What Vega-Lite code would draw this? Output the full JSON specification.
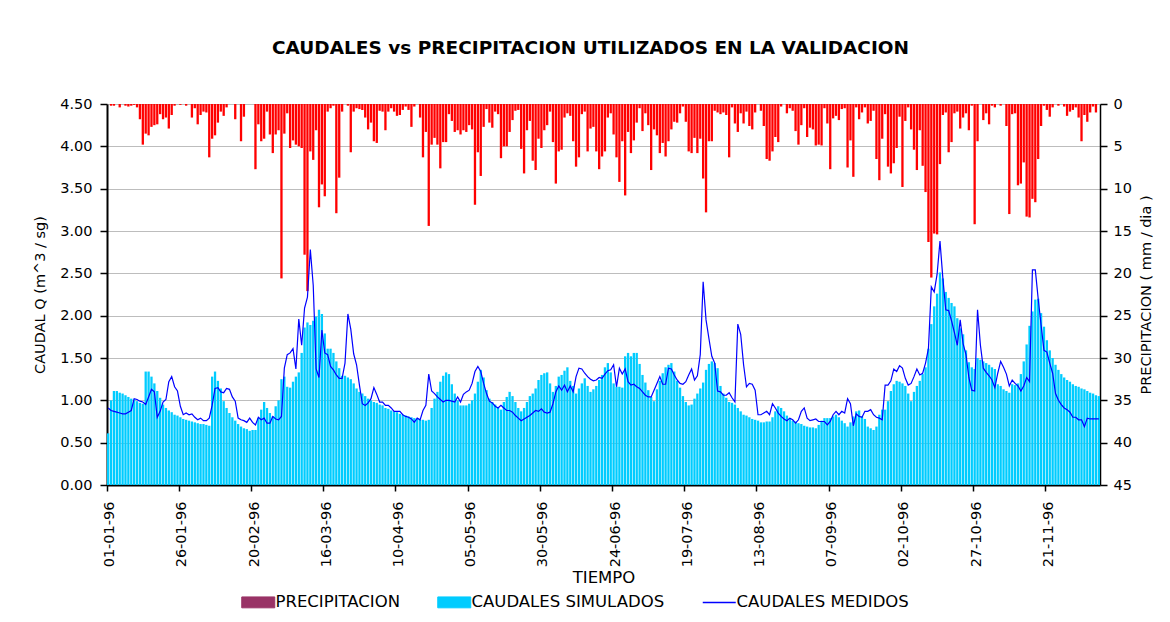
{
"$schema": "https://vega.github.io/schema/vega-lite/v6.json",
"width": 993, "height": 381,
"autosize": {"type": "none"},
"padding": {"left": 107, "top": 104, "right": 70, "bottom": 137},
"background": "white",
"config": {
 "view": {"stroke": null},
 "font": "DejaVu Sans",
 "axis": {"labelFont": "DejaVu Sans", "titleFont": "DejaVu Sans", "labelColor": "black", "titleColor": "black", "titleFontWeight": "normal", "tickColor": "black", "domainColor": "black"}
},
"title": {"text": "CAUDALES vs PRECIPITACION UTILIZADOS EN LA VALIDACION", "font": "DejaVu Sans", "fontSize": 18.5, "fontWeight": "bold", "color": "black", "offset": 39, "dx": -13, "anchor": "middle"},
"data": {"values": [
{"fecha":"01-01-96","sim":0.61,"med":0.91,"pre":0},
{"fecha":"02-01-96","sim":1.00,"med":0.88,"pre":0.2},
{"fecha":"03-01-96","sim":1.11,"med":0.87,"pre":0.2},
{"fecha":"04-01-96","sim":1.11,"med":0.86,"pre":0},
{"fecha":"05-01-96","sim":1.09,"med":0.85,"pre":0.4},
{"fecha":"06-01-96","sim":1.08,"med":0.84,"pre":0},
{"fecha":"07-01-96","sim":1.06,"med":0.84,"pre":0.2},
{"fecha":"08-01-96","sim":1.04,"med":0.86,"pre":0.3},
{"fecha":"09-01-96","sim":1.02,"med":0.88,"pre":0.2},
{"fecha":"10-01-96","sim":1.01,"med":1.02,"pre":0.1},
{"fecha":"11-01-96","sim":0.99,"med":1.01,"pre":0.4},
{"fecha":"12-01-96","sim":0.97,"med":0.99,"pre":1.8},
{"fecha":"13-01-96","sim":0.96,"med":0.98,"pre":4.8},
{"fecha":"14-01-96","sim":1.34,"med":0.95,"pre":3.5},
{"fecha":"15-01-96","sim":1.34,"med":1.04,"pre":3.7},
{"fecha":"16-01-96","sim":1.28,"med":1.13,"pre":2.7},
{"fecha":"17-01-96","sim":1.20,"med":1.10,"pre":2.5},
{"fecha":"18-01-96","sim":1.11,"med":0.80,"pre":2.4},
{"fecha":"19-01-96","sim":1.03,"med":0.87,"pre":1.2},
{"fecha":"20-01-96","sim":0.95,"med":0.98,"pre":1.8},
{"fecha":"21-01-96","sim":0.91,"med":1.01,"pre":1.6},
{"fecha":"22-01-96","sim":0.88,"med":1.22,"pre":2.9},
{"fecha":"23-01-96","sim":0.86,"med":1.28,"pre":1.3},
{"fecha":"24-01-96","sim":0.83,"med":1.16,"pre":0.2},
{"fecha":"25-01-96","sim":0.82,"med":1.11,"pre":0},
{"fecha":"26-01-96","sim":0.80,"med":0.93,"pre":0.1},
{"fecha":"27-01-96","sim":0.78,"med":0.83,"pre":0},
{"fecha":"28-01-96","sim":0.77,"med":0.85,"pre":0.2},
{"fecha":"29-01-96","sim":0.76,"med":0.83,"pre":0},
{"fecha":"30-01-96","sim":0.75,"med":0.84,"pre":1.6},
{"fecha":"31-01-96","sim":0.74,"med":0.80,"pre":0.5},
{"fecha":"01-02-96","sim":0.73,"med":0.77,"pre":2.4},
{"fecha":"02-02-96","sim":0.72,"med":0.79,"pre":1.3},
{"fecha":"03-02-96","sim":0.72,"med":0.76,"pre":0.9},
{"fecha":"04-02-96","sim":0.71,"med":0.76,"pre":1.0},
{"fecha":"05-02-96","sim":0.70,"med":0.79,"pre":6.3},
{"fecha":"06-02-96","sim":1.28,"med":0.94,"pre":4.1},
{"fecha":"07-02-96","sim":1.34,"med":1.14,"pre":3.7},
{"fecha":"08-02-96","sim":1.23,"med":1.15,"pre":2.2},
{"fecha":"09-02-96","sim":1.14,"med":1.10,"pre":0.9},
{"fecha":"10-02-96","sim":0.99,"med":1.09,"pre":1.4},
{"fecha":"11-02-96","sim":0.91,"med":1.14,"pre":0.4},
{"fecha":"12-02-96","sim":0.85,"med":1.13,"pre":0},
{"fecha":"13-02-96","sim":0.80,"med":1.04,"pre":0},
{"fecha":"14-02-96","sim":0.76,"med":0.99,"pre":1.8},
{"fecha":"15-02-96","sim":0.72,"med":0.79,"pre":0},
{"fecha":"16-02-96","sim":0.69,"med":0.77,"pre":4.4},
{"fecha":"17-02-96","sim":0.67,"med":0.76,"pre":1.5},
{"fecha":"18-02-96","sim":0.66,"med":0.74,"pre":0},
{"fecha":"19-02-96","sim":0.64,"med":0.79,"pre":0},
{"fecha":"20-02-96","sim":0.65,"med":0.74,"pre":0},
{"fecha":"21-02-96","sim":0.65,"med":0.71,"pre":7.7},
{"fecha":"22-02-96","sim":0.79,"med":0.80,"pre":2.4},
{"fecha":"23-02-96","sim":0.89,"med":0.77,"pre":4.4},
{"fecha":"24-02-96","sim":0.98,"med":0.79,"pre":4.1},
{"fecha":"25-02-96","sim":0.91,"med":0.73,"pre":0.9},
{"fecha":"26-02-96","sim":0.85,"med":0.73,"pre":3.6},
{"fecha":"27-02-96","sim":0.81,"med":0.81,"pre":5.8},
{"fecha":"28-02-96","sim":0.93,"med":0.78,"pre":3.6},
{"fecha":"29-02-96","sim":1.00,"med":0.77,"pre":3.1},
{"fecha":"01-03-96","sim":1.25,"med":0.81,"pre":20.6},
{"fecha":"02-03-96","sim":1.28,"med":1.38,"pre":3.5},
{"fecha":"03-03-96","sim":1.16,"med":1.54,"pre":1.1},
{"fecha":"04-03-96","sim":1.15,"med":1.56,"pre":5.2},
{"fecha":"05-03-96","sim":1.22,"med":1.61,"pre":4.3},
{"fecha":"06-03-96","sim":1.28,"med":1.37,"pre":4.8},
{"fecha":"07-03-96","sim":1.33,"med":1.96,"pre":5.0},
{"fecha":"08-03-96","sim":1.56,"med":1.65,"pre":5.2},
{"fecha":"09-03-96","sim":1.86,"med":2.09,"pre":17.8},
{"fecha":"10-03-96","sim":1.92,"med":2.22,"pre":22.1},
{"fecha":"11-03-96","sim":1.89,"med":2.78,"pre":5.6},
{"fecha":"12-03-96","sim":1.94,"med":2.36,"pre":6.6},
{"fecha":"13-03-96","sim":1.99,"med":1.37,"pre":3.1},
{"fecha":"14-03-96","sim":2.07,"med":1.27,"pre":12.2},
{"fecha":"15-03-96","sim":2.02,"med":1.83,"pre":9.5},
{"fecha":"16-03-96","sim":1.79,"med":1.56,"pre":10.9},
{"fecha":"17-03-96","sim":1.61,"med":1.54,"pre":0.9},
{"fecha":"18-03-96","sim":1.61,"med":1.40,"pre":0.5},
{"fecha":"19-03-96","sim":1.56,"med":1.36,"pre":0.2},
{"fecha":"20-03-96","sim":1.46,"med":1.30,"pre":12.9},
{"fecha":"21-03-96","sim":1.38,"med":1.26,"pre":8.7},
{"fecha":"22-03-96","sim":1.29,"med":1.26,"pre":0.9},
{"fecha":"23-03-96","sim":1.29,"med":1.44,"pre":0},
{"fecha":"24-03-96","sim":1.27,"med":2.02,"pre":0.2},
{"fecha":"25-03-96","sim":1.25,"med":1.84,"pre":5.7},
{"fecha":"26-03-96","sim":1.20,"med":1.55,"pre":0.9},
{"fecha":"27-03-96","sim":1.14,"med":1.42,"pre":0.5},
{"fecha":"28-03-96","sim":1.10,"med":1.18,"pre":0.6},
{"fecha":"29-03-96","sim":1.08,"med":0.96,"pre":0.7},
{"fecha":"30-03-96","sim":1.05,"med":0.94,"pre":1.6},
{"fecha":"31-03-96","sim":1.02,"med":0.97,"pre":3.0},
{"fecha":"01-04-96","sim":1.00,"med":1.02,"pre":2.2},
{"fecha":"02-04-96","sim":0.98,"med":1.15,"pre":4.4},
{"fecha":"03-04-96","sim":0.97,"med":1.07,"pre":4.6},
{"fecha":"04-04-96","sim":0.95,"med":0.98,"pre":0.8},
{"fecha":"05-04-96","sim":0.94,"med":0.98,"pre":0.9},
{"fecha":"06-04-96","sim":0.91,"med":0.94,"pre":3.1},
{"fecha":"07-04-96","sim":0.90,"med":0.94,"pre":0.9},
{"fecha":"08-04-96","sim":0.88,"med":0.91,"pre":0.5},
{"fecha":"09-04-96","sim":0.87,"med":0.87,"pre":0.9},
{"fecha":"10-04-96","sim":0.86,"med":0.87,"pre":1.4},
{"fecha":"11-04-96","sim":0.84,"med":0.87,"pre":1.3},
{"fecha":"12-04-96","sim":0.83,"med":0.83,"pre":0.7},
{"fecha":"13-04-96","sim":0.82,"med":0.81,"pre":0.3},
{"fecha":"14-04-96","sim":0.81,"med":0.80,"pre":0.7},
{"fecha":"15-04-96","sim":0.80,"med":0.78,"pre":2.7},
{"fecha":"16-04-96","sim":0.79,"med":0.74,"pre":0.3},
{"fecha":"17-04-96","sim":0.78,"med":0.79,"pre":0},
{"fecha":"18-04-96","sim":0.77,"med":0.77,"pre":1.6},
{"fecha":"19-04-96","sim":0.77,"med":0.88,"pre":6.3},
{"fecha":"20-04-96","sim":0.76,"med":0.94,"pre":3.3},
{"fecha":"21-04-96","sim":0.77,"med":1.31,"pre":14.4},
{"fecha":"22-04-96","sim":0.91,"med":1.11,"pre":4.8},
{"fecha":"23-04-96","sim":1.02,"med":1.08,"pre":4.0},
{"fecha":"24-04-96","sim":1.10,"med":1.04,"pre":4.8},
{"fecha":"25-04-96","sim":1.22,"med":1.01,"pre":7.6},
{"fecha":"26-04-96","sim":1.29,"med":0.98,"pre":4.5},
{"fecha":"27-04-96","sim":1.33,"med":1.00,"pre":4.5},
{"fecha":"28-04-96","sim":1.31,"med":1.00,"pre":1.2},
{"fecha":"29-04-96","sim":1.19,"med":0.99,"pre":2.0},
{"fecha":"30-04-96","sim":1.08,"med":0.98,"pre":3.3},
{"fecha":"01-05-96","sim":1.00,"med":1.04,"pre":3.1},
{"fecha":"02-05-96","sim":0.94,"med":0.98,"pre":3.6},
{"fecha":"03-05-96","sim":0.94,"med":1.07,"pre":3.1},
{"fecha":"04-05-96","sim":0.94,"med":1.10,"pre":3.3},
{"fecha":"05-05-96","sim":0.96,"med":1.12,"pre":2.5},
{"fecha":"06-05-96","sim":1.00,"med":1.20,"pre":3.0},
{"fecha":"07-05-96","sim":1.08,"med":1.34,"pre":11.9},
{"fecha":"08-05-96","sim":1.22,"med":1.40,"pre":5.7},
{"fecha":"09-05-96","sim":1.36,"med":1.34,"pre":8.5},
{"fecha":"10-05-96","sim":1.27,"med":1.20,"pre":2.7},
{"fecha":"11-05-96","sim":1.12,"med":1.08,"pre":0.6},
{"fecha":"12-05-96","sim":1.02,"med":0.99,"pre":2.2},
{"fecha":"13-05-96","sim":0.98,"med":0.97,"pre":2.8},
{"fecha":"14-05-96","sim":0.95,"med":0.93,"pre":0.9},
{"fecha":"15-05-96","sim":0.91,"med":0.91,"pre":1.2},
{"fecha":"16-05-96","sim":0.89,"med":0.94,"pre":6.4},
{"fecha":"17-05-96","sim":0.98,"med":0.91,"pre":5.0},
{"fecha":"18-05-96","sim":1.04,"med":0.88,"pre":5.0},
{"fecha":"19-05-96","sim":1.10,"med":0.88,"pre":3.3},
{"fecha":"20-05-96","sim":1.05,"med":0.86,"pre":1.9},
{"fecha":"21-05-96","sim":0.98,"med":0.82,"pre":0.8},
{"fecha":"22-05-96","sim":0.91,"med":0.79,"pre":0.7},
{"fecha":"23-05-96","sim":0.87,"med":0.76,"pre":5.3},
{"fecha":"24-05-96","sim":0.91,"med":0.78,"pre":8.2},
{"fecha":"25-05-96","sim":0.98,"med":0.80,"pre":3.1},
{"fecha":"26-05-96","sim":1.05,"med":0.82,"pre":2.0},
{"fecha":"27-05-96","sim":1.08,"med":0.85,"pre":6.7},
{"fecha":"28-05-96","sim":1.14,"med":0.88,"pre":7.8},
{"fecha":"29-05-96","sim":1.24,"med":0.87,"pre":4.1},
{"fecha":"30-05-96","sim":1.30,"med":0.90,"pre":5.2},
{"fecha":"31-05-96","sim":1.32,"med":0.86,"pre":3.1},
{"fecha":"01-06-96","sim":1.33,"med":0.85,"pre":2.5},
{"fecha":"02-06-96","sim":1.20,"med":0.86,"pre":0.9},
{"fecha":"03-06-96","sim":1.10,"med":0.96,"pre":4.5},
{"fecha":"04-06-96","sim":1.17,"med":1.10,"pre":9.4},
{"fecha":"05-06-96","sim":1.28,"med":1.17,"pre":5.6},
{"fecha":"06-06-96","sim":1.30,"med":1.12,"pre":5.4},
{"fecha":"07-06-96","sim":1.35,"med":1.18,"pre":1.6},
{"fecha":"08-06-96","sim":1.39,"med":1.10,"pre":1.1},
{"fecha":"09-06-96","sim":1.23,"med":1.17,"pre":1.4},
{"fecha":"10-06-96","sim":1.17,"med":1.10,"pre":4.4},
{"fecha":"11-06-96","sim":1.08,"med":1.28,"pre":7.4},
{"fecha":"12-06-96","sim":1.14,"med":1.38,"pre":6.3},
{"fecha":"13-06-96","sim":1.20,"med":1.37,"pre":1.2},
{"fecha":"14-06-96","sim":1.26,"med":1.32,"pre":0.9},
{"fecha":"15-06-96","sim":1.17,"med":1.28,"pre":5.6},
{"fecha":"16-06-96","sim":1.10,"med":1.25,"pre":2.9},
{"fecha":"17-06-96","sim":1.13,"med":1.23,"pre":2.7},
{"fecha":"18-06-96","sim":1.17,"med":1.24,"pre":5.6},
{"fecha":"19-06-96","sim":1.24,"med":1.27,"pre":7.7},
{"fecha":"20-06-96","sim":1.30,"med":1.26,"pre":6.2},
{"fecha":"21-06-96","sim":1.39,"med":1.31,"pre":5.6},
{"fecha":"22-06-96","sim":1.44,"med":1.35,"pre":1.6},
{"fecha":"23-06-96","sim":1.33,"med":1.36,"pre":1.1},
{"fecha":"24-06-96","sim":1.20,"med":1.42,"pre":3.6},
{"fecha":"25-06-96","sim":1.16,"med":1.16,"pre":6.3},
{"fecha":"26-06-96","sim":1.16,"med":1.38,"pre":9.2},
{"fecha":"27-06-96","sim":1.15,"med":1.31,"pre":4.4},
{"fecha":"28-06-96","sim":1.52,"med":1.37,"pre":10.8},
{"fecha":"29-06-96","sim":1.56,"med":1.22,"pre":3.3},
{"fecha":"30-06-96","sim":1.52,"med":1.18,"pre":5.8},
{"fecha":"01-07-96","sim":1.56,"med":1.19,"pre":4.3},
{"fecha":"02-07-96","sim":1.56,"med":1.16,"pre":2.2},
{"fecha":"03-07-96","sim":1.43,"med":1.14,"pre":0.5},
{"fecha":"04-07-96","sim":1.30,"med":1.10,"pre":3.2},
{"fecha":"05-07-96","sim":1.21,"med":1.06,"pre":1.1},
{"fecha":"06-07-96","sim":1.12,"med":1.04,"pre":2.5},
{"fecha":"07-07-96","sim":1.04,"med":1.04,"pre":7.8},
{"fecha":"08-07-96","sim":0.99,"med":1.12,"pre":3.0},
{"fecha":"09-07-96","sim":1.13,"med":1.20,"pre":3.7},
{"fecha":"10-07-96","sim":1.23,"med":1.28,"pre":5.8},
{"fecha":"11-07-96","sim":1.32,"med":1.19,"pre":4.6},
{"fecha":"12-07-96","sim":1.39,"med":1.19,"pre":6.2},
{"fecha":"13-07-96","sim":1.42,"med":1.38,"pre":4.4},
{"fecha":"14-07-96","sim":1.44,"med":1.37,"pre":3.0},
{"fecha":"15-07-96","sim":1.34,"med":1.30,"pre":2.1},
{"fecha":"16-07-96","sim":1.23,"med":1.24,"pre":2.2},
{"fecha":"17-07-96","sim":1.15,"med":1.20,"pre":1.1},
{"fecha":"18-07-96","sim":1.05,"med":1.19,"pre":0.3},
{"fecha":"19-07-96","sim":0.98,"med":1.22,"pre":2.1},
{"fecha":"20-07-96","sim":0.94,"med":1.30,"pre":5.6},
{"fecha":"21-07-96","sim":0.95,"med":1.37,"pre":5.8},
{"fecha":"22-07-96","sim":1.02,"med":1.24,"pre":4.0},
{"fecha":"23-07-96","sim":1.08,"med":1.29,"pre":5.8},
{"fecha":"24-07-96","sim":1.14,"med":1.54,"pre":4.1},
{"fecha":"25-07-96","sim":1.21,"med":2.40,"pre":8.8},
{"fecha":"26-07-96","sim":1.36,"med":1.95,"pre":12.8},
{"fecha":"27-07-96","sim":1.43,"med":1.73,"pre":4.4},
{"fecha":"28-07-96","sim":1.46,"med":1.52,"pre":4.4},
{"fecha":"29-07-96","sim":1.44,"med":1.44,"pre":0.8},
{"fecha":"30-07-96","sim":1.38,"med":1.11,"pre":1.0},
{"fecha":"31-07-96","sim":1.17,"med":1.10,"pre":1.2},
{"fecha":"01-08-96","sim":1.08,"med":1.06,"pre":1.0},
{"fecha":"02-08-96","sim":1.03,"med":1.06,"pre":1.3},
{"fecha":"03-08-96","sim":0.98,"med":1.09,"pre":6.3},
{"fecha":"04-08-96","sim":0.97,"med":1.03,"pre":0.4},
{"fecha":"05-08-96","sim":0.95,"med":0.98,"pre":2.3},
{"fecha":"06-08-96","sim":0.91,"med":1.90,"pre":3.3},
{"fecha":"07-08-96","sim":0.87,"med":1.78,"pre":1.1},
{"fecha":"08-08-96","sim":0.83,"med":1.42,"pre":2.3},
{"fecha":"09-08-96","sim":0.82,"med":1.16,"pre":0.9},
{"fecha":"10-08-96","sim":0.80,"med":1.20,"pre":2.6},
{"fecha":"11-08-96","sim":0.78,"med":1.19,"pre":3.0},
{"fecha":"12-08-96","sim":0.77,"med":1.12,"pre":1.0},
{"fecha":"13-08-96","sim":0.76,"med":0.83,"pre":0},
{"fecha":"14-08-96","sim":0.74,"med":0.83,"pre":0.8},
{"fecha":"15-08-96","sim":0.74,"med":0.85,"pre":2.6},
{"fecha":"16-08-96","sim":0.75,"med":0.87,"pre":6.5},
{"fecha":"17-08-96","sim":0.75,"med":0.83,"pre":6.7},
{"fecha":"18-08-96","sim":0.80,"med":0.96,"pre":5.6},
{"fecha":"19-08-96","sim":0.87,"med":0.91,"pre":3.9},
{"fecha":"20-08-96","sim":0.93,"med":0.85,"pre":4.5},
{"fecha":"21-08-96","sim":0.91,"med":0.81,"pre":0.3},
{"fecha":"22-08-96","sim":0.87,"med":0.78,"pre":0},
{"fecha":"23-08-96","sim":0.82,"med":0.76,"pre":1.1},
{"fecha":"24-08-96","sim":0.78,"med":0.79,"pre":0.5},
{"fecha":"25-08-96","sim":0.76,"med":0.77,"pre":0.8},
{"fecha":"26-08-96","sim":0.75,"med":0.73,"pre":3.2},
{"fecha":"27-08-96","sim":0.73,"med":0.77,"pre":4.8},
{"fecha":"28-08-96","sim":0.72,"med":0.87,"pre":2.5},
{"fecha":"29-08-96","sim":0.70,"med":0.91,"pre":0.5},
{"fecha":"30-08-96","sim":0.69,"med":0.79,"pre":3.9},
{"fecha":"31-08-96","sim":0.68,"med":0.76,"pre":2.8},
{"fecha":"01-09-96","sim":0.68,"med":0.77,"pre":3.0},
{"fecha":"02-09-96","sim":0.67,"med":0.78,"pre":4.9},
{"fecha":"03-09-96","sim":0.71,"med":0.75,"pre":4.8},
{"fecha":"04-09-96","sim":0.76,"med":0.75,"pre":4.9},
{"fecha":"05-09-96","sim":0.79,"med":0.75,"pre":0.5},
{"fecha":"06-09-96","sim":0.79,"med":0.71,"pre":2.3},
{"fecha":"07-09-96","sim":0.79,"med":0.75,"pre":7.7},
{"fecha":"08-09-96","sim":0.81,"med":0.83,"pre":1.7},
{"fecha":"09-09-96","sim":0.83,"med":0.87,"pre":1.4},
{"fecha":"10-09-96","sim":0.80,"med":0.83,"pre":1.9},
{"fecha":"11-09-96","sim":0.76,"med":0.87,"pre":0.6},
{"fecha":"12-09-96","sim":0.73,"med":0.85,"pre":0.5},
{"fecha":"13-09-96","sim":0.69,"med":1.02,"pre":7.5},
{"fecha":"14-09-96","sim":0.74,"med":0.96,"pre":4.3},
{"fecha":"15-09-96","sim":0.81,"med":0.70,"pre":8.6},
{"fecha":"16-09-96","sim":0.87,"med":0.84,"pre":0.4},
{"fecha":"17-09-96","sim":0.88,"med":0.81,"pre":1.8},
{"fecha":"18-09-96","sim":0.81,"med":0.80,"pre":1.0},
{"fecha":"19-09-96","sim":0.78,"med":0.87,"pre":0.4},
{"fecha":"20-09-96","sim":0.69,"med":0.87,"pre":2.3},
{"fecha":"21-09-96","sim":0.67,"med":0.89,"pre":2.0},
{"fecha":"22-09-96","sim":0.65,"med":0.83,"pre":0.8},
{"fecha":"23-09-96","sim":0.69,"med":0.80,"pre":6.5},
{"fecha":"24-09-96","sim":0.83,"med":0.79,"pre":9.0},
{"fecha":"25-09-96","sim":0.89,"med":0.77,"pre":4.1},
{"fecha":"26-09-96","sim":0.89,"med":1.18,"pre":1.2},
{"fecha":"27-09-96","sim":0.99,"med":1.18,"pre":7.4},
{"fecha":"28-09-96","sim":1.11,"med":1.23,"pre":8.2},
{"fecha":"29-09-96","sim":1.19,"med":1.37,"pre":7.0},
{"fecha":"30-09-96","sim":1.23,"med":1.34,"pre":5.2},
{"fecha":"01-10-96","sim":1.22,"med":1.41,"pre":1.5},
{"fecha":"02-10-96","sim":1.20,"med":1.38,"pre":9.8},
{"fecha":"03-10-96","sim":1.17,"med":1.26,"pre":2.0},
{"fecha":"04-10-96","sim":1.08,"med":1.18,"pre":0.4},
{"fecha":"05-10-96","sim":0.99,"med":1.20,"pre":3.0},
{"fecha":"06-10-96","sim":1.10,"med":1.28,"pre":5.4},
{"fecha":"07-10-96","sim":1.17,"med":1.37,"pre":7.8},
{"fecha":"08-10-96","sim":1.23,"med":1.30,"pre":3.1},
{"fecha":"09-10-96","sim":1.31,"med":1.32,"pre":7.3},
{"fecha":"10-10-96","sim":1.39,"med":1.44,"pre":10.4},
{"fecha":"11-10-96","sim":1.61,"med":1.61,"pre":16.3},
{"fecha":"12-10-96","sim":1.90,"med":2.34,"pre":20.5},
{"fecha":"13-10-96","sim":2.11,"med":2.28,"pre":15.3},
{"fecha":"14-10-96","sim":2.26,"med":2.49,"pre":15.4},
{"fecha":"15-10-96","sim":2.51,"med":2.88,"pre":7.1},
{"fecha":"16-10-96","sim":2.44,"med":2.44,"pre":1.3},
{"fecha":"17-10-96","sim":2.28,"med":2.07,"pre":1.0},
{"fecha":"18-10-96","sim":2.21,"med":2.06,"pre":5.7},
{"fecha":"19-10-96","sim":2.15,"med":1.94,"pre":4.5},
{"fecha":"20-10-96","sim":2.11,"med":1.80,"pre":1.1},
{"fecha":"21-10-96","sim":1.97,"med":1.65,"pre":0.9},
{"fecha":"22-10-96","sim":1.85,"med":1.95,"pre":2.9},
{"fecha":"23-10-96","sim":1.78,"med":1.67,"pre":1.6},
{"fecha":"24-10-96","sim":1.59,"med":1.54,"pre":1.1},
{"fecha":"25-10-96","sim":1.45,"med":1.27,"pre":3.1},
{"fecha":"26-10-96","sim":1.39,"med":1.12,"pre":0.2},
{"fecha":"27-10-96","sim":1.37,"med":1.11,"pre":14.2},
{"fecha":"28-10-96","sim":1.50,"med":2.07,"pre":4.4},
{"fecha":"29-10-96","sim":1.48,"med":1.65,"pre":0},
{"fecha":"30-10-96","sim":1.46,"med":1.38,"pre":1.9},
{"fecha":"31-10-96","sim":1.44,"med":1.33,"pre":1.1},
{"fecha":"01-11-96","sim":1.42,"med":1.29,"pre":2.4},
{"fecha":"02-11-96","sim":1.39,"med":1.24,"pre":0.2},
{"fecha":"03-11-96","sim":1.37,"med":1.15,"pre":0.4},
{"fecha":"04-11-96","sim":1.19,"med":1.32,"pre":0},
{"fecha":"05-11-96","sim":1.17,"med":1.46,"pre":0.2},
{"fecha":"06-11-96","sim":1.13,"med":1.39,"pre":0},
{"fecha":"07-11-96","sim":1.11,"med":1.31,"pre":2.6},
{"fecha":"08-11-96","sim":1.09,"med":1.17,"pre":13.0},
{"fecha":"09-11-96","sim":1.19,"med":1.24,"pre":1.2},
{"fecha":"10-11-96","sim":1.18,"med":1.20,"pre":1.1},
{"fecha":"11-11-96","sim":1.20,"med":1.17,"pre":9.6},
{"fecha":"12-11-96","sim":1.31,"med":1.11,"pre":9.4},
{"fecha":"13-11-96","sim":1.46,"med":1.17,"pre":6.9},
{"fecha":"14-11-96","sim":1.66,"med":1.27,"pre":13.3},
{"fecha":"15-11-96","sim":1.88,"med":1.22,"pre":13.4},
{"fecha":"16-11-96","sim":2.05,"med":2.54,"pre":11.2},
{"fecha":"17-11-96","sim":2.19,"med":2.54,"pre":11.6},
{"fecha":"18-11-96","sim":2.20,"med":2.20,"pre":6.5},
{"fecha":"19-11-96","sim":2.03,"med":1.89,"pre":2.6},
{"fecha":"20-11-96","sim":1.87,"med":1.59,"pre":0.2},
{"fecha":"21-11-96","sim":1.71,"med":1.57,"pre":0.7},
{"fecha":"22-11-96","sim":1.59,"med":1.44,"pre":1.5},
{"fecha":"23-11-96","sim":1.50,"med":1.32,"pre":0.4},
{"fecha":"24-11-96","sim":1.42,"med":1.08,"pre":0},
{"fecha":"25-11-96","sim":1.36,"med":1.00,"pre":0.2},
{"fecha":"26-11-96","sim":1.31,"med":0.95,"pre":0},
{"fecha":"27-11-96","sim":1.27,"med":0.91,"pre":0.3},
{"fecha":"28-11-96","sim":1.24,"med":0.89,"pre":1.4},
{"fecha":"29-11-96","sim":1.22,"med":0.86,"pre":0.9},
{"fecha":"30-11-96","sim":1.19,"med":0.80,"pre":0.7},
{"fecha":"01-12-96","sim":1.17,"med":0.80,"pre":0.4},
{"fecha":"02-12-96","sim":1.16,"med":0.77,"pre":1.6},
{"fecha":"03-12-96","sim":1.14,"med":0.77,"pre":4.4},
{"fecha":"04-12-96","sim":1.13,"med":0.69,"pre":1.3},
{"fecha":"05-12-96","sim":1.11,"med":0.79,"pre":2.1},
{"fecha":"06-12-96","sim":1.09,"med":0.78,"pre":1.0},
{"fecha":"07-12-96","sim":1.08,"med":0.78,"pre":0.3},
{"fecha":"08-12-96","sim":1.06,"med":0.78,"pre":1.0},
{"fecha":"09-12-96","sim":1.05,"med":0.78,"pre":0}
]},
"encoding": {
 "x": {"field": "fecha", "type": "ordinal", "sort": null,
  "scale": {"paddingInner": 0.2, "paddingOuter": 0},
  "axis": {"title": "TIEMPO", "titleFontSize": 16.5, "titlePadding": 3,
   "values": ["01-01-96","26-01-96","20-02-96","16-03-96","10-04-96","05-05-96","30-05-96","24-06-96","19-07-96","13-08-96","07-09-96","02-10-96","27-10-96","21-11-96"],
   "bandPosition": 0, "labelAngle": 270, "labelFontSize": 14.5, "labelPadding": 10, "labelOffset": 2,
   "tickSize": 6, "tickWidth": 1.5, "domainWidth": 2, "grid": false}}
},
"layer": [
 {"mark": {"type": "bar", "color": "#00CCFF"},
  "encoding": {"y": {"field": "sim", "type": "quantitative",
   "scale": {"domain": [0, 4.5], "nice": false},
   "axis": {"orient": "left", "title": "CAUDAL Q (m^3 / sg)", "titleFontSize": 14.5, "titlePadding": 12,
    "values": [0,0.5,1,1.5,2,2.5,3,3.5,4,4.5], "format": ".2f", "labelFontSize": 14.5, "labelPadding": 8,
    "tickSize": 7, "tickWidth": 1.5, "domainWidth": 2, "grid": true, "gridColor": "#BDBDBD", "gridWidth": 1}}}},
 {"mark": {"type": "bar", "color": "#FF0000"},
  "encoding": {"y": {"field": "pre", "type": "quantitative",
   "scale": {"domain": [0, 45], "nice": false, "reverse": true},
   "axis": {"orient": "right", "title": "PRECIPITACION ( mm / dia )", "titleFontSize": 14.5, "titleAngle": 270, "titleBaseline": "top", "titlePadding": 8,
    "values": [0,5,10,15,20,25,30,35,40,45], "format": "d", "labelFontSize": 14.5, "labelPadding": 6,
    "tickSize": 7, "tickWidth": 1.5, "domainWidth": 1.5, "grid": false}}}},
 {"mark": {"type": "line", "strokeWidth": 1.2},
  "encoding": {
   "y": {"field": "med", "type": "quantitative", "scale": {"domain": [0, 4.5], "nice": false}, "axis": null},
   "color": {"datum": "CAUDALES MEDIDOS", "type": "nominal",
    "scale": {"domain": ["PRECIPITACION", "CAUDALES SIMULADOS", "CAUDALES MEDIDOS"], "range": ["#993366", "#00CCFF", "#0000FF"]},
    "legend": {"orient": "none", "legendX": 143, "legendY": 490, "direction": "horizontal", "title": null,
     "labelFont": "DejaVu Sans", "labelFontSize": 16.5, "labelColor": "black", "labelOffset": 9, "labelLimit": 400,
     "symbolSize": 1089, "columnPadding": 34,
     "encode": {"symbols": {"update": {
      "shape": {"signal": "datum.value === 'CAUDALES MEDIDOS' ? 'M-1,0H1' : 'M-1,-0.33H1V0.33H-1Z'"},
      "fill": {"signal": "datum.value === 'PRECIPITACION' ? '#993366' : (datum.value === 'CAUDALES SIMULADOS' ? '#00CCFF' : 'transparent')"},
      "stroke": {"signal": "datum.value === 'PRECIPITACION' ? '#FF0000' : (datum.value === 'CAUDALES SIMULADOS' ? '#00CCFF' : '#0000FF')"},
      "strokeWidth": {"signal": "datum.value === 'CAUDALES MEDIDOS' ? 1.5 : 1"},
      "opacity": {"value": 1}, "fillOpacity": {"value": 1}, "strokeOpacity": {"value": 1}}}}}}
  }}
],
"resolve": {"scale": {"y": "independent"}, "axis": {"y": "independent"}}
}
